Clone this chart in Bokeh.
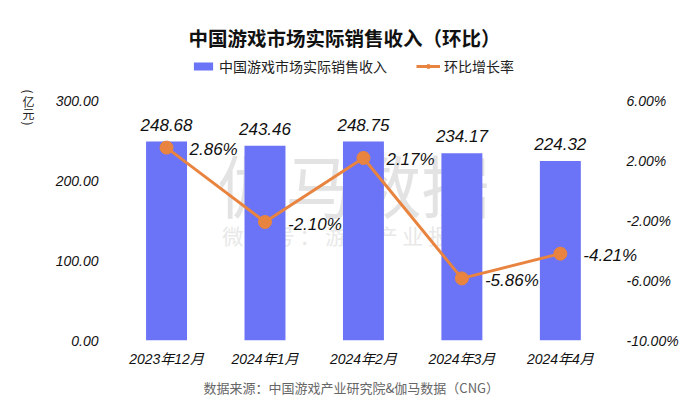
import math

from bokeh.plotting import figure
from bokeh.embed import file_html
from bokeh.resources import INLINE
from bokeh.core.properties import value
from bokeh.models import (ColumnDataSource, Range1d, LinearAxis, Title,
                          FixedTicker, PrintfTickFormatter, LabelSet, Label,
                          Legend, LegendItem)

months = ["2023年12月", "2024年1月", "2024年2月", "2024年3月", "2024年4月"]
revenue = [248.68, 243.46, 248.75, 234.17, 224.32]
mom_rate = [2.86, -2.10, 2.17, -5.86, -4.21]
left_ticks = [0, 100, 200, 300]
right_ticks = [-10, -6, -2, 2, 6]

CJK = "Noto Sans CJK SC"
NUM = "Liberation Sans, Noto Sans CJK SC"
BAR_COLOR = "#6b73f6"
LINE_COLOR = "#e8843f"
TEXT = "#111111"

idx = list(range(len(months)))
src = ColumnDataSource(dict(
    x=idx,
    revenue=revenue,
    rate=mom_rate,
    revenue_txt=["%.2f" % v for v in revenue],
    rate_txt=["%.2f%%" % v for v in mom_rate],
))

# the frame covers nearly the whole canvas (title, legend and unit sit
# inside it); tick labels are pulled inward with negative standoffs
p = figure(
    width=681,
    height=403,
    x_range=Range1d(-1.585, 4.865),
    y_range=Range1d(0, 425),
    output_backend="svg",
    toolbar_location=None,
    min_border_left=10,
    min_border_right=36,
    min_border_top=0,
    min_border_bottom=63,
)
p.outline_line_color = None
p.grid.visible = False


def style_axis(ax):
    ax.axis_line_color = None
    ax.major_tick_line_color = None
    ax.minor_tick_line_color = None
    ax.major_label_text_font = NUM
    ax.major_label_text_font_size = "14px"
    ax.major_label_text_font_style = "italic"
    ax.major_label_text_color = TEXT


style_axis(p.xaxis[0])
p.xaxis.ticker = FixedTicker(ticks=idx)
p.xaxis.major_label_overrides = {i: m for i, m in zip(idx, months)}
p.xaxis.major_label_standoff = 4

style_axis(p.yaxis[0])
p.yaxis.ticker = FixedTicker(ticks=left_ticks)
p.yaxis.formatter = PrintfTickFormatter(format="%.2f")
p.yaxis.major_label_standoff = -94

# right axis for month-on-month rate
p.extra_y_ranges["rate"] = Range1d(-10, 12.667)
ax2 = LinearAxis(y_range_name="rate", ticker=FixedTicker(ticks=right_ticks),
                 formatter=PrintfTickFormatter(format="%.2f%%"))
style_axis(ax2)
ax2.major_label_standoff = -25
p.add_layout(ax2, "right")

# watermark
p.add_layout(Label(x=343, y=157, x_units="screen", y_units="screen",
                   text="伽马数据", text_font=CJK, text_font_size="68px",
                   text_color="#e3e3e3", text_align="center",
                   text_baseline="middle", level="underlay"))
p.add_layout(Label(x=338, y=106, x_units="screen", y_units="screen",
                   text="微 信 号 ： 游 戏 产 业 报 告", text_font=CJK,
                   text_font_size="21px", text_color="#e8e8e8",
                   text_align="center", text_baseline="middle",
                   level="underlay"))

bars = p.vbar(x="x", top="revenue", width=0.416, source=src,
              fill_color=BAR_COLOR, line_color=None)
line = p.line(x="x", y="rate", source=src, y_range_name="rate",
              line_color=LINE_COLOR, line_width=3)
dots = p.scatter(x="x", y="rate", source=src, y_range_name="rate",
                 size=13, fill_color=LINE_COLOR, line_color=LINE_COLOR)

p.add_layout(LabelSet(x="x", y="revenue", text="revenue_txt", source=src,
                      y_offset=11, text_align="center", text_baseline="bottom",
                      text_font=value(NUM), text_font_size=value("17px"),
                      text_font_style="italic", text_color=TEXT))
p.add_layout(LabelSet(x="x", y="rate", text="rate_txt", source=src,
                      y_range_name="rate", x_offset=23, y_offset=-2,
                      text_align="left", text_baseline="middle",
                      text_font=value(NUM), text_font_size=value("17px"),
                      text_font_style="italic", text_color=TEXT))

legend = Legend(items=[
    LegendItem(label="中国游戏市场实际销售收入", renderers=[bars]),
    LegendItem(label="环比增长率", renderers=[line, dots]),
], orientation="horizontal", location=(181, 264))
legend.label_text_font = CJK
legend.label_text_font_size = "14px"
legend.label_text_color = "#222222"
legend.glyph_width = 24
legend.glyph_height = 10
legend.label_standoff = 4
legend.spacing = 29
legend.padding = 2
legend.margin = 0
legend.border_line_color = None
legend.background_fill_alpha = 0
p.add_layout(legend, "center")

p.add_layout(Label(x=334, y=303, x_units="screen", y_units="screen",
                   text="中国游戏市场实际销售收入（环比）", text_font=CJK,
                   text_font_size="19.5px", text_font_style="bold",
                   text_color=TEXT, text_align="center",
                   text_baseline="middle"))

# unit, written top to bottom
unit_parts = [("(", 249, -math.pi / 2), ("亿", 239, 0), ("元", 227, 0),
              (")", 217, -math.pi / 2)]
for ch, yy, ang in unit_parts:
    p.add_layout(Label(x=18, y=yy, x_units="screen", y_units="screen",
                       text=ch, angle=ang, text_font=CJK,
                       text_font_size="12px", text_color="#222222",
                       text_align="center", text_baseline="middle"))

source_note = Title(text="数据来源：中国游戏产业研究院&伽马数据（CNG）",
                    align="left", offset=193, standoff=12, text_font=CJK,
                    text_font_size="13px", text_font_style="normal",
                    text_color="#666666")
p.add_layout(source_note, "below")

open("out.html", "w").write(file_html(p, INLINE))
